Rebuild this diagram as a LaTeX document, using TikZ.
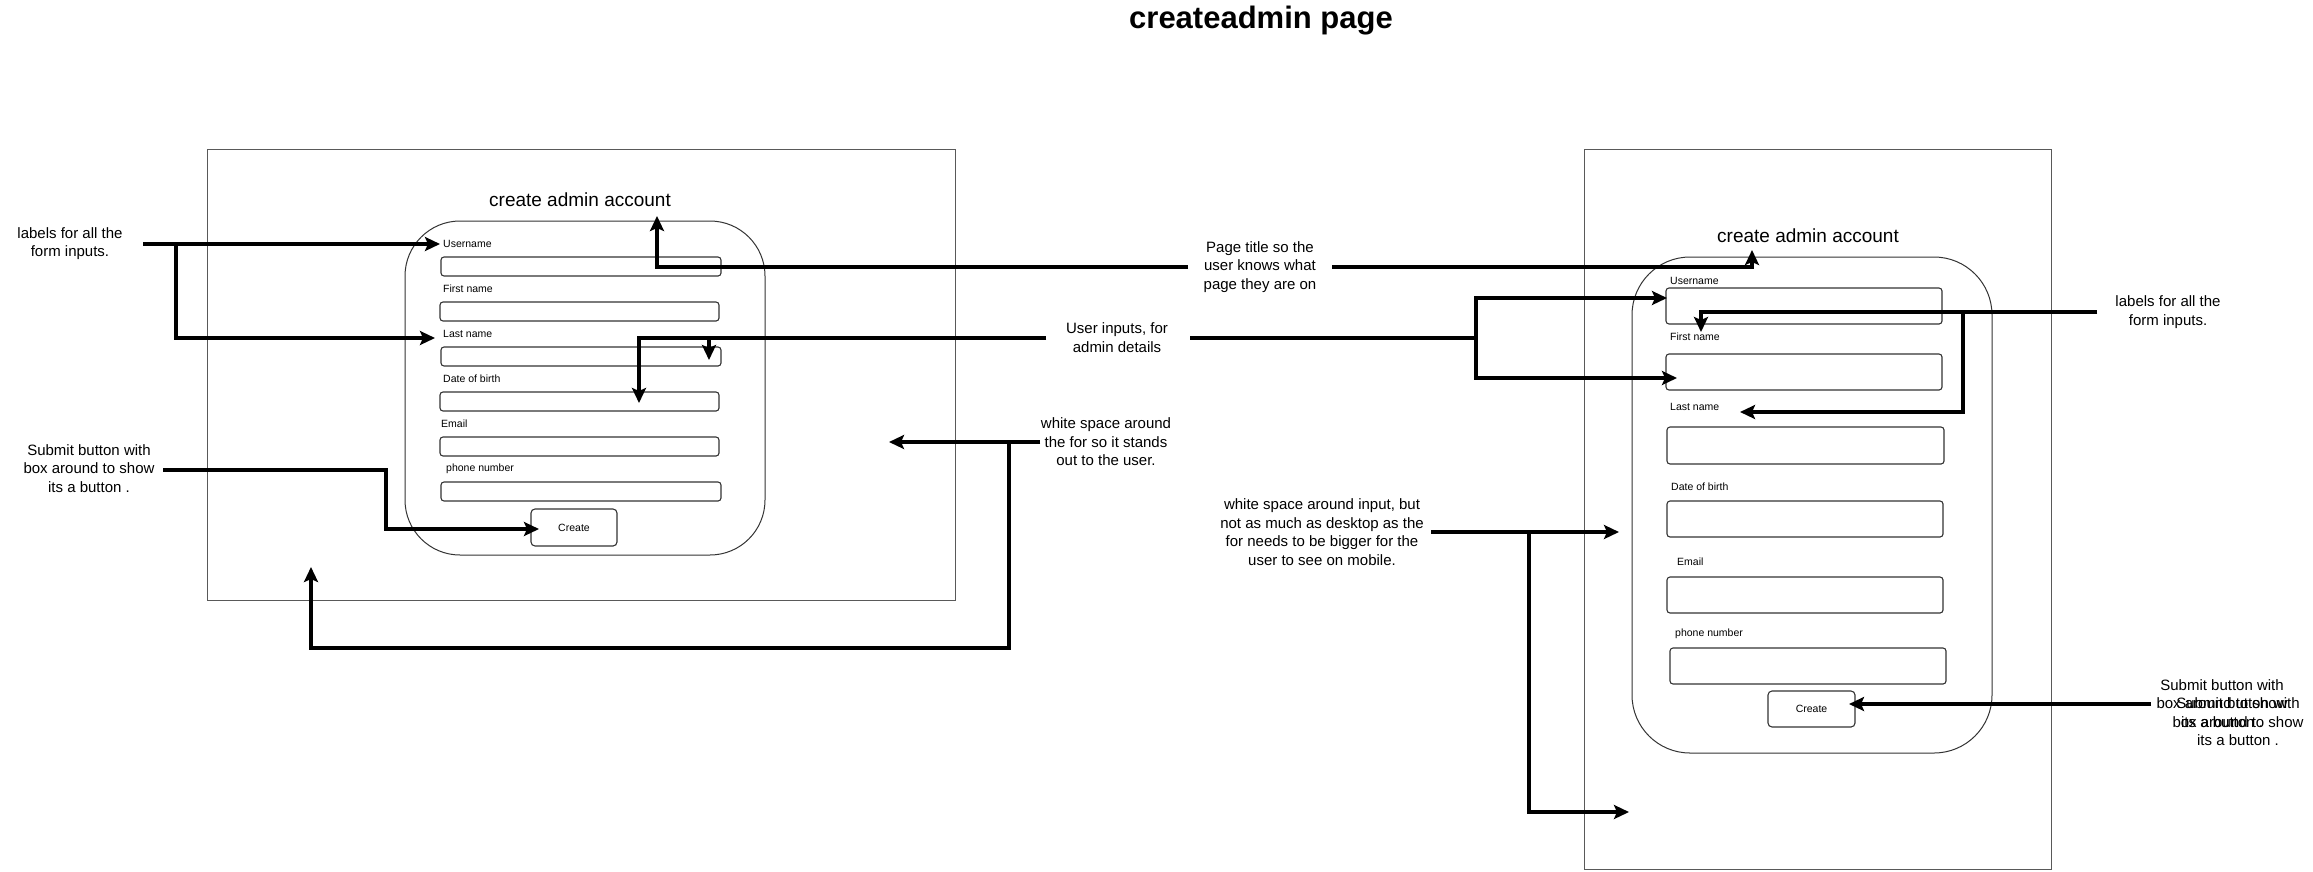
\documentclass[tikz,border=0pt]{standalone}
\usepackage{fontspec}
\setmainfont{Liberation Sans}
\usetikzlibrary{arrows.meta}
\begin{document}
\begin{tikzpicture}[x=1pt,y=-1pt,
  frame/.style={draw=black!65,line width=1pt},
  card/.style={draw=black!80,line width=1pt,rounded corners=55pt},
  inputbox/.style={draw=black!80,line width=1.1pt,rounded corners=3pt},
  lbl/.style={anchor=west,inner sep=0pt,font=\fontsize{10.5}{12}\selectfont},
  ftitle/.style={inner sep=0pt,font=\fontsize{19}{22}\selectfont},
  note/.style={inner sep=0pt,align=center,font=\fontsize{15}{18.5}\selectfont},
  arr/.style={line width=3.5pt,-{Stealth[length=15pt,width=14pt,inset=3pt]}}
]
\useasboundingbox (0,0) rectangle (2313,871);

% page title
\node[inner sep=0pt,font=\fontsize{31}{36}\selectfont\bfseries] (pagetitle) at (1261,21) {createadmin page};

% ---------------- desktop ----------------
\draw[frame] (207,149) rectangle (955,600);
\node[ftitle] (titleL) at (580,200) {create admin account};
\draw[card] (405,221) rectangle (765,555);
\node[lbl] (userL) at (443,244) {Username};
\draw[inputbox] (441,257) rectangle (721,276);
\node[lbl] (firstL) at (443,289) {First name};
\draw[inputbox] (440,302) rectangle (719,321);
\node[lbl] (lastL) at (443,334) {Last name};
\draw[inputbox] (441,347) rectangle (721,366);
\node[lbl] (dobL) at (443,379) {Date of birth};
\draw[inputbox] (440,392) rectangle (719,411);
\node[lbl] (emailL) at (441,424) {Email};
\draw[inputbox] (440,437) rectangle (719,456);
\node[lbl] (phoneL) at (446,469) {phone number};
\draw[inputbox] (441,482) rectangle (721,501);
\draw[inputbox,rounded corners=4pt] (531,509) rectangle (617,546);
\node[inner sep=0pt,font=\fontsize{10.5}{12}\selectfont] (createL) at (574,527.5) {Create};

% ---------------- mobile ----------------
\draw[frame] (1584,149) rectangle (2051,869);
\node[ftitle] (titleR) at (1808,236) {create admin account};
\draw[card,rounded corners=58pt] (1632,257) rectangle (1992,753);
\node[lbl] (userR) at (1670,281) {Username};
\draw[inputbox] (1666,288) rectangle (1942,324);
\node[lbl] (firstR) at (1670,337) {First name};
\draw[inputbox] (1666,354) rectangle (1942,390);
\node[lbl] (lastR) at (1670,407) {Last name};
\draw[inputbox] (1667,427) rectangle (1944,464);
\node[lbl] (dobR) at (1671,487) {Date of birth};
\draw[inputbox] (1667,501) rectangle (1943,537);
\node[lbl] (emailR) at (1677,562) {Email};
\draw[inputbox] (1667,577) rectangle (1943,613);
\node[lbl] (phoneR) at (1675,634) {phone number};
\draw[inputbox] (1670,648) rectangle (1946,684);
\draw[inputbox,rounded corners=4pt] (1768,691) rectangle (1855,727);
\node[inner sep=0pt,font=\fontsize{10.5}{12}\selectfont] (createR) at (1811.5,709) {Create};

% ---------------- annotations ----------------
\node[note] (a1) at (70,243.5) {labels for all the\\form inputs.};
\node[note] (a2) at (89,468.5) {Submit button with\\box around to show\\its a button .};
\node[note] (a3) at (1260,267) {Page title so the\\user knows what\\page they are on};
\node[note] (a4) at (1117,337.5) {User inputs, for\\admin details};
\node[note] (a5) at (1106,442) {white space around\\the for so it stands\\out to the user.};
\node[note] (a6) at (2168,312) {labels for all the\\form inputs.};
\node[note] (a7) at (1322,532) {white space around input, but\\not as much as desktop as the\\for needs to be bigger for the\\user to see on mobile.};
\node[note] (a8) at (2222,703.5) {Submit button with\\box around to show\\its a button .};
\node[note] (a8b) at (2238,722) {Submit button with\\box around to show\\its a button .};

% edge end points
\coordinate (a1o) at (143,244);
\coordinate (a2o) at (163,470);
\coordinate (a3l) at (1188,267);
\coordinate (a3r) at (1332,267);
\coordinate (a4l) at (1046,338);
\coordinate (a4r) at (1190,338);
\coordinate (a5l) at (1040,442);
\coordinate (a6l) at (2097,312);
\coordinate (a7r) at (1431,532);
\coordinate (a8l) at (2151,704);

\coordinate (tUserL) at (440,244);
\coordinate (tLastL) at (435,338);
\coordinate (tCreateL) at (539,529);
\coordinate (tTitleL) at (657,216);
\coordinate (tTitleR) at (1752,250);
\coordinate (tIn3L) at (709,360);
\coordinate (tIn4L) at (639,403);
\coordinate (tIn1R) at (1667,298);
\coordinate (tIn2R) at (1677,378);
\coordinate (tWhiteL) at (889,442);
\coordinate (tSpaceL) at (311,567);
\coordinate (tFirstR) at (1701,332);
\coordinate (tLastR) at (1740,412);
\coordinate (tWhiteR1) at (1619,532);
\coordinate (tWhiteR2) at (1629,812);
\coordinate (tCreateR) at (1849,704);

% connectors
\draw[arr] (a1o) -- (tUserL);
\draw[arr] (a1o) -- ++(33,0) |- (tLastL);
\draw[arr] (a2o) -- ++(223,0) |- (tCreateL);
\draw[arr] (a3l) -| (tTitleL);
\draw[arr] (a3r) -| (tTitleR);
\draw[arr] (a4l) -| (tIn3L);
\draw[arr] (a4l) -| (tIn4L);
\draw[arr] (a4r) -- ++(286,0) |- (tIn1R);
\draw[arr] (a4r) -- ++(286,0) |- (tIn2R);
\draw[arr] (a5l) -- (tWhiteL);
\draw[arr] (a5l) -- ++(-31,0) -- ++(0,206) -| (tSpaceL);
\draw[arr] (a6l) -| (tFirstR);
\draw[arr] (a6l) -- ++(-134,0) |- (tLastR);
\draw[arr] (a7r) -- (tWhiteR1);
\draw[arr] (a7r) -- ++(98,0) |- (tWhiteR2);
\draw[arr] (a8l) -- (tCreateR);
\end{tikzpicture}
\end{document}
